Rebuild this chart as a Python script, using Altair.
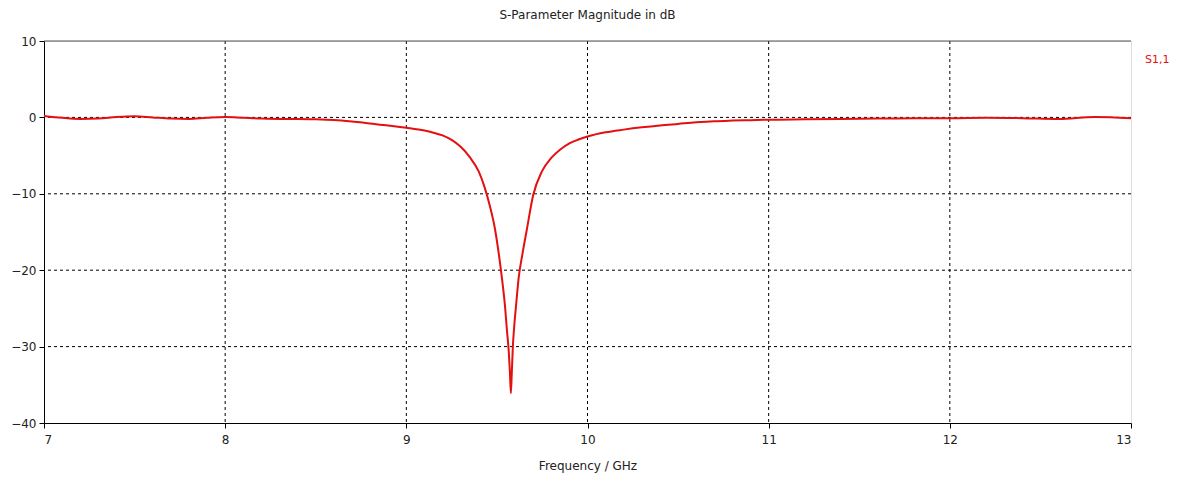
import altair as alt
import pandas as pd

freq = [7.0, 7.1, 7.2, 7.3, 7.4, 7.5, 7.6, 7.7, 7.8, 7.9, 8.0, 8.1, 8.2, 8.3, 8.4,
        8.5, 8.6, 8.7, 8.8, 8.9, 9.0, 9.1, 9.15, 9.2, 9.25, 9.3, 9.35, 9.4, 9.43,
        9.46, 9.49, 9.51, 9.53, 9.545, 9.555, 9.565, 9.572, 9.577, 9.582, 9.588,
        9.595, 9.605, 9.62, 9.64, 9.665, 9.7, 9.75, 9.8, 9.85, 9.9, 9.95, 10.0,
        10.1, 10.2, 10.3, 10.4, 10.5, 10.6, 10.7, 10.8, 10.9, 11.0, 11.2, 11.4,
        11.6, 11.8, 12.0, 12.2, 12.4, 12.6, 12.8, 13.0]
s11_db = [0.2, -0.05, -0.2, -0.15, 0.05, 0.15, 0.0, -0.15, -0.2, -0.05, 0.05, -0.05,
          -0.15, -0.2, -0.2, -0.25, -0.35, -0.55, -0.8, -1.05, -1.35, -1.72, -2.0,
          -2.35, -2.95, -3.85, -5.2, -7.1, -9.0, -11.5, -14.7, -17.8, -21.5, -24.8,
          -27.8, -30.5, -33.5, -36.1, -33.5, -30.0, -27.5, -24.8, -21.0, -18.0,
          -14.7, -10.2, -7.0, -5.3, -4.2, -3.4, -2.9, -2.5, -1.95, -1.6, -1.3,
          -1.05, -0.85, -0.65, -0.5, -0.42, -0.36, -0.3, -0.25, -0.2, -0.15, -0.1,
          -0.1, -0.05, -0.1, -0.2, 0.05, -0.1]

x_ticks = [7, 8, 9, 10, 11, 12, 13]
y_ticks = [10, 0, -10, -20, -30, -40]
x_grid = [8, 9, 10, 11, 12]
y_grid = [0, -10, -20, -30]
series_label = "S1,1"
title_text = "S-Parameter Magnitude in dB"
x_title = "Frequency / GHz"

W, H = 1087, 382
FONT = "DejaVu Sans"
TXT = "#222222"
RED = "#e41010"

df = pd.DataFrame({"f": freq, "s": s11_db})

xs = alt.Scale(domain=[7, 13], nice=False, zero=False)
ys = alt.Scale(domain=[-40, 10], nice=False, zero=False)

line = alt.Chart(df).mark_line(color=RED, strokeWidth=2, interpolate="monotone").encode(
    x=alt.X("f:Q", scale=xs,
            axis=alt.Axis(values=x_ticks, format="d", title=x_title, grid=False,
                          domainColor="black", tickColor="black", tickSize=5,
                          labelFont=FONT, labelFontSize=12, labelColor=TXT, labelPadding=6,
                          titleFont=FONT, titleFontSize=12, titleFontWeight="normal",
                          titleColor=TXT, titlePadding=15)),
    y=alt.Y("s:Q", scale=ys,
            axis=alt.Axis(values=y_ticks, format="d", title=None, grid=False,
                          domainColor="black", tickColor="black", tickSize=5,
                          labelFont=FONT, labelFontSize=12, labelColor=TXT, labelPadding=3)),
)

vgrid = alt.Chart(pd.DataFrame({"g": x_grid})).mark_rule(
    color="black", strokeWidth=1, strokeDash=[3, 3]
).encode(x=alt.X("g:Q", scale=xs))

hgrid = alt.Chart(pd.DataFrame({"g": y_grid})).mark_rule(
    color="black", strokeWidth=1, strokeDash=[3, 3]
).encode(y=alt.Y("g:Q", scale=ys))

top = alt.Chart(pd.DataFrame({"g": [10]})).mark_rule(color="#555555", strokeWidth=1).encode(
    y=alt.Y("g:Q", scale=ys), x=alt.value(0), x2=alt.value(W)
)

legend = alt.Chart(pd.DataFrame({"t": [series_label]})).mark_text(
    color=RED, font=FONT, fontSize=11, align="left", baseline="middle"
).encode(text="t:N", x=alt.value(W + 14), y=alt.value(19))

chart = alt.layer(vgrid, hgrid, top, line, legend).properties(
    width=W, height=H,
    title=alt.TitleParams(title_text, font=FONT, fontSize=12, fontWeight="normal",
                          color=TXT, anchor="middle", offset=13),
    autosize=alt.AutoSizeParams(type="none"),
    padding={"left": 44, "top": 41, "right": 53, "bottom": 58},
).configure_view(stroke=None).configure(background="white")

chart.save("out.html", embed_options={"renderer": "svg", "actions": False})
